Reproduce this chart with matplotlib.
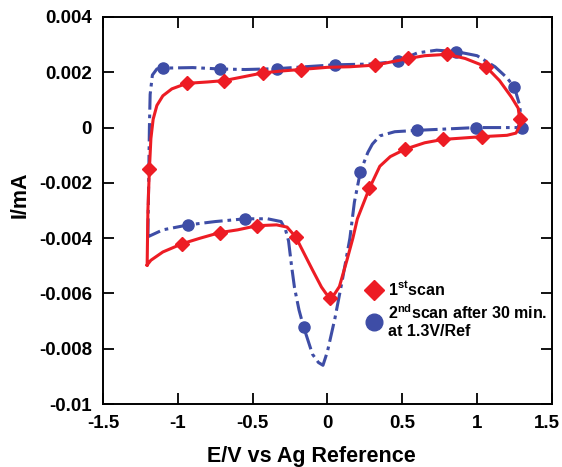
import matplotlib
matplotlib.use("Agg")
import matplotlib.pyplot as plt
import matplotlib.transforms as mtransforms
from matplotlib.lines import Line2D

plt.rcParams["font.family"] = ["Liberation Sans", "DejaVu Sans"]
plt.rcParams["font.weight"] = "bold"
plt.rcParams["mathtext.fontset"] = "custom"
plt.rcParams["mathtext.rm"] = "Liberation Sans:bold"
plt.rcParams["mathtext.bf"] = "Liberation Sans:bold"

# ---- 1st scan: potential (V) and current (mA), full cycle ----
scan1_E = [-1.205, -1.20, -1.19, -1.18, -1.165, -1.14, -1.10, -1.04, -0.94, -0.80,
           -0.69, -0.55, -0.43, -0.30, -0.18, 0.00, 0.15, 0.32, 0.45, 0.54,
           0.65, 0.80, 0.92, 1.06, 1.15, 1.23, 1.275, 1.285, 1.28, 1.26,
           1.20, 1.03, 0.90, 0.77, 0.65, 0.52, 0.42, 0.35, 0.28, 0.20,
           0.17, 0.13, 0.08, 0.05, 0.02, -0.01, -0.04, -0.10, -0.18, -0.21,
           -0.27, -0.34, -0.47, -0.60, -0.72, -0.85, -0.97, -1.10, -1.18, -1.205]
scan1_I = [-0.00497, -0.0030, -0.0015, -0.0004, 0.0003, 0.0008, 0.00115, 0.0014, 0.0016, 0.00165,
           0.0017, 0.00185, 0.00198, 0.00205, 0.0021, 0.00218, 0.0022, 0.00226, 0.0024, 0.0025,
           0.0026, 0.00265, 0.0025, 0.0022, 0.0017, 0.0011, 0.0007, 0.0003, 0.0000, -0.0002,
           -0.00028, -0.00033, -0.00038, -0.00043, -0.00055, -0.00078, -0.00105, -0.0014, -0.0022, -0.0033,
           -0.0040, -0.0048, -0.00575, -0.0060, -0.00617, -0.0060, -0.00577, -0.00515, -0.0043, -0.00397,
           -0.0036, -0.00352, -0.00355, -0.0037, -0.0038, -0.0040, -0.0042, -0.0045, -0.0048, -0.00497]
scan1_mark_E = [-1.19, -0.94, -0.69, -0.43, -0.18, 0.32, 0.54, 0.80, 1.06, 1.285,
                1.03, 0.77, 0.52, 0.28, 0.02, -0.21, -0.47, -0.72, -0.97]
scan1_mark_I = [-0.0015, 0.0016, 0.0017, 0.00198, 0.0021, 0.00226, 0.0025, 0.00265, 0.0022, 0.0003,
                -0.00033, -0.00043, -0.00078, -0.0022, -0.00617, -0.00397, -0.00355, -0.0038, -0.0042]

# ---- 2nd scan after 30 min at 1.3 V ----
scan2_E = [-1.20, -1.195, -1.19, -1.185, -1.17, -1.14, -1.10, -0.90, -0.72, -0.55,
           -0.34, -0.15, 0.05, 0.30, 0.47, 0.60, 0.73, 0.86, 1.00, 1.12,
           1.20, 1.25, 1.285, 1.295, 1.30, 1.20, 0.99, 0.80, 0.60, 0.45,
           0.35, 0.30, 0.27, 0.22, 0.18, 0.15, 0.10, 0.05, 0.00, -0.03,
           -0.06, -0.10, -0.13, -0.16, -0.19, -0.22, -0.24, -0.26, -0.28, -0.31,
           -0.40, -0.55, -0.75, -0.93, -1.10, -1.20]
scan2_I = [-0.00395, -0.0020, 0.0000, 0.0012, 0.0019, 0.00212, 0.00215, 0.00217, 0.00212, 0.0021,
           0.00213, 0.0022, 0.00227, 0.0023, 0.0024, 0.0027, 0.0028, 0.00275, 0.0026, 0.0022,
           0.0018, 0.00145, 0.0008, 0.0002, 0.0000, 0.0000, 0.0000, -0.00005, -0.0001, -0.00015,
           -0.0003, -0.0006, -0.0009, -0.0016, -0.0027, -0.0040, -0.0055, -0.0069, -0.0081, -0.0086,
           -0.0085, -0.0082, -0.0077, -0.0072, -0.0066, -0.0058, -0.0050, -0.0041, -0.0037, -0.0034,
           -0.0033, -0.0033, -0.0034, -0.00352, -0.0037, -0.00395]
scan2_mark_E = [-1.10, -0.72, -0.34, 0.05, 0.47, 0.86, 1.25, 1.30, 0.99, 0.60,
                0.22, -0.16, -0.55, -0.93]
scan2_mark_I = [0.00215, 0.00212, 0.00213, 0.00227, 0.0024, 0.00275, 0.00145, 0.0000, 0.0000, -0.0001,
                -0.0016, -0.0072, -0.0033, -0.00352]

x_ticks = [-1.5, -1, -0.5, 0, 0.5, 1, 1.5]
x_tick_labels = ["-1.5", "-1", "-0.5", "0", "0.5", "1", "1.5"]
y_ticks = [0.004, 0.002, 0, -0.002, -0.004, -0.006, -0.008, -0.01]
y_tick_labels = ["0.004", "0.002", "0", "-0.002", "-0.004", "-0.006", "-0.008", "-0.01"]

RED = "#ED1C24"
BLUE = "#3E4DA6"

fig = plt.figure(figsize=(5.62, 4.67), dpi=100)
ax = fig.add_axes([0.1833, 0.1349, 0.7987, 0.8287])

ax.plot(scan2_E, scan2_I, color=BLUE, lw=2.2, linestyle=(0, (6, 1.6, 1.2, 1.6)))
ax.plot(scan2_mark_E, scan2_mark_I, linestyle="none", marker="o", ms=8, color=BLUE)
ax.plot(scan1_E, scan1_I, color=RED, lw=2.2)
ax.plot(scan1_mark_E, scan1_mark_I, linestyle="none", marker="D", ms=7, color=RED)

ax.set_xlim(-1.5, 1.5)
ax.set_ylim(-0.01, 0.004)
ax.set_xticks(x_ticks)
ax.set_xticklabels(x_tick_labels)
ax.set_yticks(y_ticks)
ax.set_yticklabels(y_tick_labels)
ax.tick_params(direction="in", length=8, width=1.3, top=True, right=True,
               labelsize=13.5, pad=8)
for s in ax.spines.values():
    s.set_linewidth(1.4)

# keep the last x tick label inside the canvas
last = ax.xaxis.get_major_ticks()[-1].label1
last.set_transform(last.get_transform() +
                   mtransforms.ScaledTranslation(-5 / 100, 0, fig.dpi_scale_trans))

ax.set_xlabel("E/V vs Ag Reference", fontsize=15.5, fontweight="bold", va="center")
ax.xaxis.set_label_coords(0.465, -0.135)
ax.set_ylabel("I/mA", fontsize=15.5, fontweight="bold", va="center")
ax.yaxis.set_label_coords(-0.185, 0.54)

handles = [Line2D([], [], linestyle="none", marker="D", ms=10, color=RED),
           Line2D([], [], linestyle="none", marker="o", ms=12, color=BLUE)]
labels = [r"1$^{\mathbf{st}}$scan", "2$^{\\mathbf{nd}}$scan after 30 min.\nat 1.3V/Ref"]
ax.legend(handles, labels, loc="upper left", bbox_to_anchor=(0.571, 0.34),
          frameon=False, fontsize=11.5, handlelength=0.9, handletextpad=0.4,
          labelspacing=0.3, borderpad=0)

fig.savefig("out.png", dpi=100)
